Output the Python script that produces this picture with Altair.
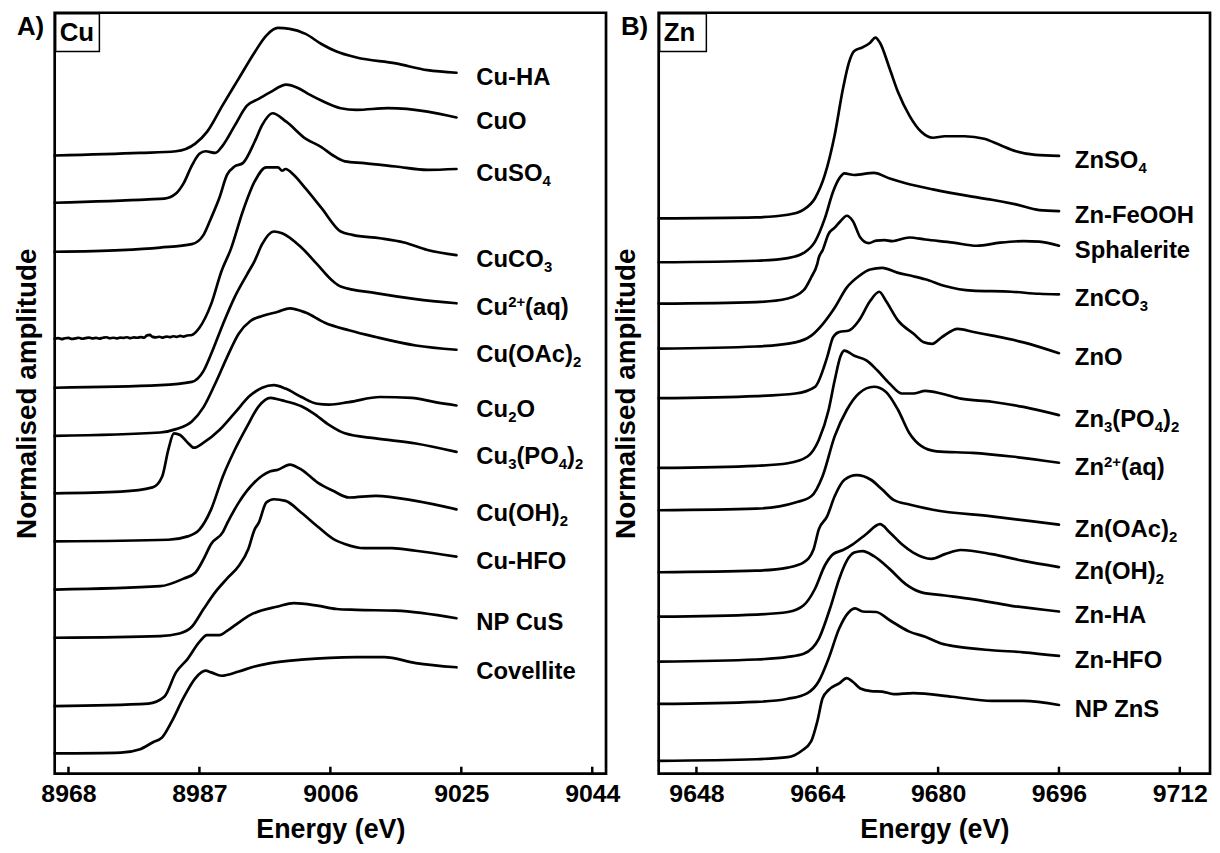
import altair as alt
import pandas as pd

FONT = "Liberation Sans"
PW, PH = 555, 766

# ---------------- Panel A : Cu K-edge ----------------
cu_ticks = [8968, 8987, 9006, 9025, 9044]

cuha_e = [8966.0, 8978.4, 8983.6, 8986.4, 8988.1, 8990.4, 8992.7, 8995.0, 8996.7, 8998.4, 9000.1, 9002.4, 9004.7, 9006.9, 9009.8, 9015.5, 9020.1, 9024.3]
cuha_a = [0.00, 0.03, 0.05, 0.14, 0.28, 0.60, 0.91, 1.22, 1.42, 1.51, 1.50, 1.44, 1.32, 1.23, 1.16, 1.09, 1.01, 0.98]

cuo_e = [8966.0, 8979.6, 8981.9, 8983.6, 8984.7, 8985.9, 8987.0, 8987.9, 8989.3, 8990.4, 8992.1, 8993.9, 8995.6, 8997.3, 8999.6, 9001.3, 9003.0, 9004.7, 9007.5, 9009.8, 9014.4, 9020.1, 9024.3]
cuo_a = [0.00, 0.04, 0.05, 0.11, 0.23, 0.44, 0.58, 0.61, 0.59, 0.68, 0.91, 1.15, 1.23, 1.31, 1.40, 1.36, 1.28, 1.21, 1.12, 1.10, 1.12, 1.08, 1.01]

cuso4_e = [8966.0, 8975.6, 8981.3, 8985.9, 8987.6, 8988.7, 8989.9, 8991.0, 8992.1, 8993.3, 8995.0, 8996.1, 8997.6, 8999.6, 9002.4, 9004.7, 9006.4, 9008.1, 9010.9, 9015.5, 9020.1, 9024.3]
cuso4_a = [0.00, 0.02, 0.05, 0.09, 0.20, 0.40, 0.64, 0.91, 1.01, 1.05, 1.30, 1.50, 1.64, 1.54, 1.34, 1.24, 1.14, 1.07, 1.05, 1.01, 0.97, 0.98]

cuco3_e = [8966.0, 8966.5, 8967.0, 8967.5, 8968.0, 8968.5, 8969.0, 8969.5, 8970.0, 8970.5, 8971.0, 8971.5,
           8972.0, 8972.5, 8973.0, 8973.5, 8974.0, 8974.5, 8975.0, 8975.5, 8976.0, 8976.5, 8977.0, 8977.5,
           8978.0, 8978.5, 8979.0, 8979.4, 8979.8, 8980.2, 8980.7, 8981.2, 8981.7, 8982.2, 8982.7, 8983.2,
           8983.7, 8984.2, 8984.7, 8985.2, 8985.9, 8987.0, 8988.7, 8990.2, 8991.6, 8993.3, 8995.0, 8996.7,
           8998.4, 8999.0, 8999.5, 9000.7, 9002.4, 9004.7, 9007.5, 9009.2, 9013.2, 9016.7, 9020.1, 9024.3]
cuco3_a = [0.000, 0.008, -0.004, 0.006, 0.010, -0.002, 0.004, 0.012, 0.000, 0.008, 0.014, 0.004,
           0.010, 0.002, 0.012, 0.018, 0.006, 0.012, 0.004, 0.014, 0.010, 0.018, 0.008, 0.016,
           0.012, 0.020, 0.014, 0.040, 0.045, 0.022, 0.016, 0.024, 0.014, 0.026, 0.020, 0.030,
           0.022, 0.034, 0.026, 0.038, 0.045, 0.13, 0.41, 0.80, 1.07, 1.51, 1.86, 2.03,
           2.03, 1.99, 2.01, 1.94, 1.78, 1.55, 1.27, 1.23, 1.19, 1.14, 1.05, 0.99]

cu2aq_e = [8966.0, 8981.3, 8985.9, 8987.6, 8988.7, 8990.4, 8992.1, 8993.9, 8995.0, 8996.1, 8997.8, 8999.0, 9001.8, 9004.1, 9006.4, 9007.5, 9012.6, 9018.4, 9024.3]
cu2aq_a = [0.00, 0.03, 0.07, 0.20, 0.40, 0.75, 1.07, 1.34, 1.50, 1.70, 1.85, 1.83, 1.66, 1.46, 1.26, 1.20, 1.12, 1.05, 1.00]

cuoac_e = [8966.0, 8981.3, 8983.6, 8985.9, 8987.6, 8989.3, 8991.0, 8992.7, 8994.4, 8996.1, 8998.4, 9000.1, 9002.4, 9005.2, 9008.7, 9012.6, 9018.4, 9024.3]
cuoac_a = [0.00, 0.04, 0.08, 0.17, 0.34, 0.62, 0.93, 1.21, 1.36, 1.42, 1.47, 1.51, 1.46, 1.34, 1.25, 1.17, 1.07, 1.02]

cu2o_e = [8966.0, 8975.6, 8980.2, 8981.6, 8982.5, 8983.3, 8984.2, 8985.3, 8986.2, 8987.6, 8989.9, 8992.1, 8994.4, 8996.1, 8997.8, 8999.5, 9001.8, 9004.1, 9005.8, 9008.7, 9013.2, 9017.8, 9021.2, 9024.3]
cu2o_a = [0.00, 0.02, 0.07, 0.20, 0.52, 0.71, 0.69, 0.60, 0.54, 0.60, 0.75, 0.95, 1.16, 1.25, 1.28, 1.24, 1.14, 1.06, 1.05, 1.08, 1.14, 1.13, 1.08, 1.04]

cu3po4_e = [8966.0, 8982.5, 8985.3, 8987.0, 8988.7, 8990.4, 8992.1, 8993.9, 8995.6, 8997.3, 8999.0, 9001.8, 9003.5, 9005.8, 9008.1, 9012.6, 9018.4, 9024.3]
cu3po4_a = [0.00, 0.02, 0.06, 0.14, 0.38, 0.77, 1.08, 1.36, 1.60, 1.70, 1.67, 1.60, 1.52, 1.38, 1.28, 1.22, 1.16, 1.06]

cuoh_e = [8966.0, 8981.3, 8984.7, 8986.4, 8987.6, 8988.7, 8990.4, 8991.0, 8992.7, 8995.0, 8997.3, 8998.4, 9000.1, 9001.8, 9004.1, 9006.4, 9008.7, 9012.6, 9018.4, 9024.3]
cuoh_a = [0.00, 0.04, 0.13, 0.20, 0.36, 0.54, 0.68, 0.78, 1.03, 1.27, 1.40, 1.42, 1.48, 1.42, 1.27, 1.17, 1.09, 1.11, 1.05, 0.95]

cuhfo_e = [8966.0, 8981.3, 8984.1, 8985.9, 8987.6, 8989.3, 8991.0, 8992.7, 8994.1, 8995.0, 8995.6, 8996.7, 8997.8, 8999.5, 9001.8, 9004.1, 9006.4, 9008.1, 9010.9, 9014.9, 9018.4, 9024.3]
cuhfo_a = [0.00, 0.02, 0.05, 0.13, 0.34, 0.54, 0.70, 0.85, 1.05, 1.28, 1.36, 1.60, 1.64, 1.62, 1.48, 1.32, 1.17, 1.11, 1.06, 1.06, 1.03, 0.96]

npcus_e = [8966.0, 8979.6, 8981.9, 8983.6, 8985.3, 8987.0, 8988.1, 8989.9, 8991.0, 8992.7, 8994.4, 8998.4, 9000.7, 9004.1, 9006.9, 9009.8, 9015.5, 9024.3]
npcus_a = [0.00, 0.03, 0.11, 0.40, 0.56, 0.76, 0.84, 0.84, 0.89, 0.99, 1.08, 1.18, 1.22, 1.19, 1.15, 1.14, 1.13, 1.04]

cov_e = [8966.0, 8975.6, 8978.4, 8980.2, 8981.6, 8983.0, 8984.7, 8986.4, 8987.9, 8988.7, 8990.2, 8992.7, 8995.0, 8997.3, 9001.8, 9009.8, 9013.8, 9018.4, 9024.3]
cov_a = [0.00, 0.01, 0.05, 0.13, 0.19, 0.38, 0.66, 0.89, 0.98, 0.96, 0.92, 0.97, 1.03, 1.07, 1.11, 1.14, 1.14, 1.07, 1.02]

cu_names = ["Cu-HA", "CuO", "CuSO4", "CuCO3", "Cu2+(aq)", "Cu(OAc)2", "Cu2O", "Cu3(PO4)2", "Cu(OH)2", "Cu-HFO", "NP CuS", "Covellite"]
cu_offset = [7.32, 6.76, 6.18, 5.15, 4.57, 4.00, 3.32, 2.75, 2.18, 1.61, 0.80, 0.24]

# ---------------- Panel B : Zn K-edge ----------------
zn_ticks = [9648, 9664, 9680, 9696, 9712]

znso4_e = [9643.0, 9655.9, 9660.1, 9662.2, 9663.7, 9665.0, 9666.3, 9667.4, 9668.2, 9668.9, 9670.0, 9671.0, 9671.7, 9672.3, 9673.6, 9674.7, 9676.2, 9677.8, 9679.3, 9680.9, 9683.5, 9686.1, 9688.2, 9690.3, 9692.9, 9696.0]
znso4_a = [0.00, 0.02, 0.07, 0.17, 0.39, 0.84, 1.61, 2.51, 3.02, 3.24, 3.31, 3.40, 3.50, 3.40, 2.89, 2.44, 1.99, 1.67, 1.56, 1.59, 1.59, 1.54, 1.42, 1.30, 1.23, 1.21]

znfe_e = [9643.0, 9655.9, 9660.1, 9662.2, 9663.7, 9665.0, 9666.1, 9666.9, 9667.6, 9668.9, 9671.5, 9673.6, 9675.7, 9679.3, 9684.5, 9687.1, 9690.3, 9693.4, 9696.0]
znfe_a = [0.00, 0.03, 0.08, 0.18, 0.40, 0.85, 1.37, 1.62, 1.72, 1.69, 1.73, 1.62, 1.53, 1.41, 1.27, 1.21, 1.12, 1.01, 0.99]

sph_e = [9643.0, 9655.9, 9660.1, 9662.2, 9663.2, 9664.0, 9664.2, 9664.7, 9665.5, 9666.3, 9667.1, 9667.9, 9668.7, 9669.7, 9670.8, 9671.8, 9672.9, 9673.9, 9676.2, 9678.3, 9682.0, 9685.1, 9688.2, 9691.3, 9693.4, 9696.0]
sph_a = [0.00, 0.03, 0.10, 0.26, 0.51, 0.77, 0.89, 1.03, 1.35, 1.47, 1.60, 1.70, 1.60, 1.28, 1.17, 1.22, 1.23, 1.21, 1.28, 1.24, 1.18, 1.12, 1.18, 1.21, 1.20, 1.12]

znco3_e = [9643.0, 9655.9, 9661.1, 9663.2, 9664.7, 9666.3, 9667.9, 9669.5, 9671.0, 9672.6, 9674.6, 9676.7, 9678.3, 9680.9, 9684.5, 9689.7, 9693.4, 9696.0]
znco3_a = [0.00, 0.04, 0.12, 0.25, 0.47, 0.79, 1.18, 1.40, 1.53, 1.56, 1.47, 1.40, 1.34, 1.21, 1.12, 1.10, 1.06, 1.05]

zno_e = [9643.0, 9655.9, 9661.1, 9663.7, 9665.3, 9666.1, 9666.9, 9668.2, 9669.5, 9671.0, 9672.2, 9673.1, 9674.7, 9676.8, 9678.1, 9679.2, 9680.5, 9682.6, 9684.7, 9687.2, 9691.3, 9696.0]
zno_a = [0.00, 0.04, 0.09, 0.22, 0.79, 1.18, 1.28, 1.31, 1.50, 1.88, 2.06, 1.88, 1.50, 1.24, 1.08, 1.05, 1.18, 1.34, 1.28, 1.21, 1.08, 0.87]

zn3po4_e = [9643.0, 9655.9, 9660.1, 9662.7, 9664.2, 9665.5, 9666.3, 9667.1, 9667.6, 9668.9, 9670.5, 9672.0, 9673.6, 9675.2, 9676.7, 9678.3, 9680.4, 9683.0, 9687.1, 9691.3, 9696.0]
zn3po4_a = [0.00, 0.04, 0.09, 0.22, 0.54, 1.12, 1.69, 2.17, 2.27, 2.17, 2.08, 1.88, 1.63, 1.44, 1.44, 1.49, 1.44, 1.34, 1.28, 1.18, 1.02]

zn2aq_e = [9643.0, 9655.9, 9661.1, 9663.2, 9664.7, 9666.3, 9667.9, 9669.5, 9671.5, 9673.1, 9674.7, 9676.2, 9677.8, 9679.8, 9684.5, 9689.7, 9696.0]
zn2aq_a = [0.00, 0.03, 0.15, 0.27, 0.66, 1.43, 1.94, 2.26, 2.39, 2.29, 1.94, 1.49, 1.24, 1.14, 1.11, 1.04, 0.92]

znoac_e = [9643.0, 9655.9, 9660.1, 9662.2, 9663.5, 9664.2, 9665.3, 9666.3, 9667.6, 9669.2, 9671.1, 9672.6, 9674.1, 9676.2, 9679.3, 9687.1, 9692.3, 9696.0]
znoac_a = [0.00, 0.03, 0.09, 0.19, 0.44, 0.83, 1.08, 1.47, 1.79, 1.88, 1.79, 1.60, 1.40, 1.31, 1.21, 1.08, 0.99, 0.92]

znoh_e = [9643.0, 9655.9, 9660.1, 9662.2, 9663.7, 9665.0, 9666.1, 9667.4, 9668.7, 9670.5, 9672.3, 9673.6, 9675.2, 9676.7, 9679.1, 9680.9, 9683.0, 9687.1, 9691.3, 9696.0]
znoh_a = [0.00, 0.04, 0.09, 0.22, 0.54, 0.99, 1.21, 1.29, 1.40, 1.60, 1.79, 1.63, 1.40, 1.24, 1.12, 1.21, 1.29, 1.21, 1.08, 0.96]

znha_e = [9643.0, 9655.9, 9660.1, 9662.2, 9664.2, 9665.8, 9666.9, 9667.9, 9668.9, 9670.0, 9671.5, 9673.6, 9675.7, 9677.8, 9680.9, 9684.5, 9689.7, 9696.0]
znha_a = [0.00, 0.04, 0.09, 0.15, 0.44, 1.08, 1.60, 1.95, 2.11, 2.14, 2.04, 1.79, 1.50, 1.34, 1.28, 1.21, 1.08, 0.97]

znhfo_e = [9643.0, 9655.9, 9660.1, 9662.7, 9664.2, 9665.5, 9666.9, 9668.2, 9669.0, 9670.0, 9671.8, 9673.6, 9676.2, 9678.3, 9680.4, 9682.5, 9687.1, 9691.3, 9696.0]
znhfo_a = [0.00, 0.04, 0.10, 0.21, 0.44, 0.88, 1.46, 1.78, 1.85, 1.79, 1.78, 1.62, 1.40, 1.30, 1.17, 1.11, 1.04, 1.00, 0.93]

npzns_e = [9643.0, 9655.9, 9660.1, 9661.9, 9663.2, 9664.0, 9664.7, 9665.5, 9666.9, 9667.9, 9668.7, 9669.7, 9671.1, 9672.6, 9674.1, 9676.7, 9681.9, 9687.1, 9691.3, 9696.0]
npzns_a = [0.00, 0.03, 0.07, 0.19, 0.38, 0.76, 1.21, 1.37, 1.50, 1.60, 1.53, 1.40, 1.35, 1.34, 1.29, 1.31, 1.24, 1.16, 1.16, 1.08]

zn_names = ["ZnSO4", "Zn-FeOOH", "Sphalerite", "ZnCO3", "ZnO", "Zn3(PO4)2", "Zn2+(aq)", "Zn(OAc)2", "Zn(OH)2", "Zn-HA", "Zn-HFO", "NP ZnS"]
zn_offset = [10.75, 9.90, 9.10, 8.23, 7.27, 5.92, 5.10, 3.90, 3.04, 2.17, 1.35, 0.25]

# ---------------- label typography (n normal, b subscript, p superscript) ----------------
cu_labels = [
    [("Cu-HA", "n")], [("CuO", "n")], [("CuSO", "n"), ("4", "b")], [("CuCO", "n"), ("3", "b")],
    [("Cu", "n"), ("2+", "p"), ("(aq)", "n")], [("Cu(OAc)", "n"), ("2", "b")],
    [("Cu", "n"), ("2", "b"), ("O", "n")],
    [("Cu", "n"), ("3", "b"), ("(PO", "n"), ("4", "b"), (")", "n"), ("2", "b")],
    [("Cu(OH)", "n"), ("2", "b")], [("Cu-HFO", "n")], [("NP CuS", "n")], [("Covellite", "n")],
]
zn_labels = [
    [("ZnSO", "n"), ("4", "b")], [("Zn-FeOOH", "n")], [("Sphalerite", "n")], [("ZnCO", "n"), ("3", "b")],
    [("ZnO", "n")],
    [("Zn", "n"), ("3", "b"), ("(PO", "n"), ("4", "b"), (")", "n"), ("2", "b")],
    [("Zn", "n"), ("2+", "p"), ("(aq)", "n")], [("Zn(OAc)", "n"), ("2", "b")],
    [("Zn(OH)", "n"), ("2", "b")], [("Zn-HA", "n")], [("Zn-HFO", "n")], [("NP ZnS", "n")],
]

ADV = {" ": 278, "(": 333, ")": 333, "+": 584, "-": 333, "2": 556, "3": 556, "4": 556,
       "A": 722, "C": 722, "F": 611, "H": 722, "N": 722, "O": 778, "P": 667, "S": 667, "Z": 611,
       "a": 556, "c": 556, "e": 556, "h": 611, "i": 278, "l": 278, "n": 611, "o": 611, "p": 611,
       "q": 611, "r": 389, "s": 556, "t": 333, "u": 611, "v": 556}


def tw(s, size):
    return sum(ADV.get(ch, 556) for ch in s) / 1000.0 * size


def curves_df(names, offsets, curves):
    rows = []
    for n, off, (e, a) in zip(names, offsets, curves):
        for i, (x, y) in enumerate(zip(e, a)):
            rows.append({"curve": n, "E": x, "v": off + y, "i": i})
    return pd.DataFrame(rows)


def labels_df(offsets, curves, labels, ppe, ppv, gap):
    rows = []
    for off, (e, a), segs in zip(offsets, curves, labels):
        x0, y0 = e[-1], off + a[-1]
        cum = gap
        for text, kind in segs:
            size = 24 if kind == "n" else 15
            shift = {"n": 12, "b": 17, "p": 4}[kind]
            rows.append({"t": text, "E": x0 + cum / ppe, "v": y0 - shift / ppv, "fs": size})
            cum += tw(text, size)
    return pd.DataFrame(rows)


def panel(names, offsets, curves, labels, xdom, ydom, ticks, tag, elem, boxw, gap, ytpad):
    ppe = PW / (xdom[1] - xdom[0])
    ppv = PH / (ydom[1] - ydom[0])
    df = curves_df(names, offsets, curves)
    lab = labels_df(offsets, curves, labels, ppe, ppv, gap)
    tkdf = pd.DataFrame({"E": ticks})
    xs = alt.Scale(domain=xdom, nice=False, zero=False)
    ys = alt.Scale(domain=ydom, nice=False, zero=False)
    xaxis = alt.Axis(values=ticks, format="d", title="Energy (eV)", grid=False, domain=False, ticks=False,
                     labelPadding=8, labelFont=FONT, labelFontSize=25, labelFontWeight="bold", labelColor="black",
                     titleFont=FONT, titleFontSize=27, titleFontWeight="bold", titleColor="black", titlePadding=10,
                     labelFlush=False, labelOverlap=False)
    yaxis = alt.Axis(title="Normalised amplitude", grid=False, domain=False, ticks=False, labels=False,
                     titleFont=FONT, titleFontSize=28, titleFontWeight="bold", titleColor="black",
                     titlePadding=ytpad)
    X = alt.X("E:Q", scale=xs, axis=xaxis, title="Energy (eV)")
    Y = alt.Y("v:Q", scale=ys, axis=yaxis, title="Normalised amplitude")
    lines = alt.Chart(df).mark_line(interpolate="monotone", color="black", strokeWidth=2.7,
                                    strokeJoin="round", strokeCap="round").encode(
        x=X, y=Y, detail="curve:N", order="i:Q")
    txt = alt.Chart(lab).mark_text(align="left", baseline="alphabetic", font=FONT, fontWeight="bold",
                                   color="black").encode(
        x=X, y=Y, text="t:N", size=alt.Size("fs:Q", scale=None))
    tk = alt.Chart(tkdf).mark_rule(color="black", strokeWidth=2.5).encode(
        x=X, y=alt.value(PH - 7), y2=alt.value(PH))
    one = pd.DataFrame({"k": [0]})
    box = alt.Chart(one).mark_rect(fill="white", stroke="black", strokeWidth=1.5).encode(
        x=alt.value(1), x2=alt.value(boxw), y=alt.value(1), y2=alt.value(39))
    boxt = alt.Chart(one).mark_text(text=elem, align="left", baseline="alphabetic", font=FONT,
                                    fontWeight="bold", fontSize=26, color="black").encode(
        x=alt.value(5), y=alt.value(28))
    tagt = alt.Chart(one).mark_text(text=tag, align="left", baseline="alphabetic", font=FONT,
                                    fontWeight="bold", fontSize=26, color="black").encode(
        x=alt.value(-38), y=alt.value(22))
    return alt.layer(lines, tk, txt, box, boxt, tagt).properties(width=PW, height=PH)


cu_curves = [(cuha_e, cuha_a), (cuo_e, cuo_a), (cuso4_e, cuso4_a), (cuco3_e, cuco3_a), (cu2aq_e, cu2aq_a),
             (cuoac_e, cuoac_a), (cu2o_e, cu2o_a), (cu3po4_e, cu3po4_a), (cuoh_e, cuoh_a), (cuhfo_e, cuhfo_a),
             (npcus_e, npcus_a), (cov_e, cov_a)]
zn_curves = [(znso4_e, znso4_a), (znfe_e, znfe_a), (sph_e, sph_a), (znco3_e, znco3_a), (zno_e, zno_a),
             (zn3po4_e, zn3po4_a), (zn2aq_e, zn2aq_a), (znoac_e, znoac_a), (znoh_e, znoh_a), (znha_e, znha_a),
             (znhfo_e, znhfo_a), (npzns_e, npzns_a)]

pa = panel(cu_names, cu_offset, cu_curves, cu_labels, [8966, 9046], [0, 9.01], cu_ticks, "A)", "Cu", 45, 20, 13)
pb = panel(zn_names, zn_offset, zn_curves, zn_labels, [9643, 9716], [0, 14.73], zn_ticks, "B)", "Zn", 48, 16, 18)

chart = alt.hconcat(pa, pb, spacing=53, bounds="flush").configure_view(
    stroke="black", strokeWidth=2.7).properties(
    padding={"left": 4, "top": 0, "right": 0, "bottom": 0}, background="white")

chart.save("out.html", embed_options={"renderer": "svg", "actions": False})
